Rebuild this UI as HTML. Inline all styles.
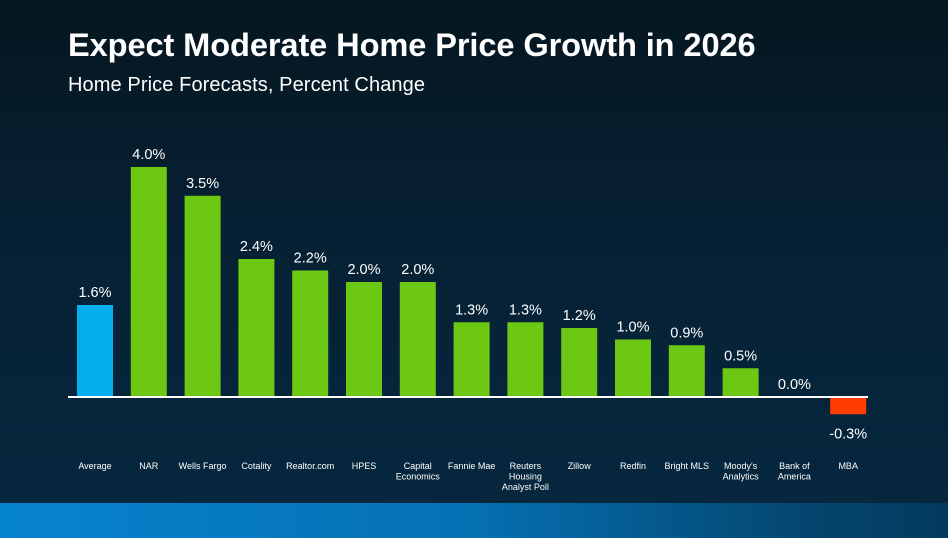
<!DOCTYPE html>
<html><head><meta charset="utf-8"><style>
html,body{margin:0;padding:0}
body{width:948px;height:538px;overflow:hidden;background:linear-gradient(180deg,#06161f 0%,#072033 40%,#062840 100%);font-family:"Liberation Sans",Arial,sans-serif;position:relative}
#title{position:absolute;left:68px;top:26px;color:#fff;font-size:32.6px;font-weight:bold;letter-spacing:-0.1px;margin:0;white-space:nowrap;line-height:38px}
#subtitle{position:absolute;left:68px;top:74px;color:#fff;font-size:20px;letter-spacing:0.1px;margin:0;white-space:nowrap}
#band{position:absolute;left:0;top:503px;width:948px;height:35px;background:linear-gradient(90deg,#0784cf 0%,#0570b2 50%,#04466f 85%,#033a5e 100%)}
svg{position:absolute;left:0;top:0}
</style></head><body>
<h1 id="title">Expect Moderate Home Price Growth in 2026</h1>
<p id="subtitle">Home Price Forecasts, Percent Change</p>
<svg id="chart" width="948" height="538"></svg>
<div id="band"></div>
<script>
const categories=["Average","NAR","Wells Fargo","Cotality","Realtor.com","HPES","Capital\nEconomics","Fannie Mae","Reuters\nHousing\nAnalyst Poll","Zillow","Redfin","Bright MLS","Moody's\nAnalytics","Bank of\nAmerica","MBA"];
const values=[1.6,4.0,3.5,2.4,2.2,2.0,2.0,1.3,1.3,1.2,1.0,0.9,0.5,0.0,-0.3];
const valueLabels=["1.6%","4.0%","3.5%","2.4%","2.2%","2.0%","2.0%","1.3%","1.3%","1.2%","1.0%","0.9%","0.5%","0.0%","-0.3%"];
const svg=document.getElementById('chart');
const NS='http://www.w3.org/2000/svg';
const baseY=397, pxPerUnit=57.5, x0=95, step=53.8, barW=36;
const xPos=i=>x0+i*step;
const yPos=v=>baseY-v*pxPerUnit;
function mk(t,a){const e=document.createElementNS(NS,t);for(const k in a)e.setAttribute(k,a[k]);svg.appendChild(e);return e;}
values.forEach((v,i)=>{
  const cx=xPos(i);
  const top=Math.min(yPos(v),baseY), h=Math.abs(yPos(v)-baseY);
  const color=i===0?'#04aeef':(v<0?'#ff3d00':'#6cc812');
  if(h>0){
    const r=mk('rect',{x:cx-barW/2,y:top,width:barW,height:h,fill:color});
    
    
  }
  const ly=v<0?yPos(v)+24:yPos(v)-8;
  const t=mk('text',{x:cx,y:ly,'text-anchor':'middle',fill:'#fff','font-size':'14.5'});
  t.textContent=valueLabels[i];
  
  
  const lines=categories[i].split('\n');
  const c=mk('text',{x:cx,y:469,'text-anchor':'middle',fill:'#fff','font-size':'9'});
  
  
  lines.forEach((ln,j)=>{const s=document.createElementNS(NS,'tspan');s.setAttribute('x',cx);s.setAttribute('dy',j?10.5:0);s.textContent=ln;c.appendChild(s);});
});
const ax=mk('line',{x1:68,x2:868,y1:baseY,y2:baseY,stroke:'#fff','stroke-width':2});


</script>
</body></html>
